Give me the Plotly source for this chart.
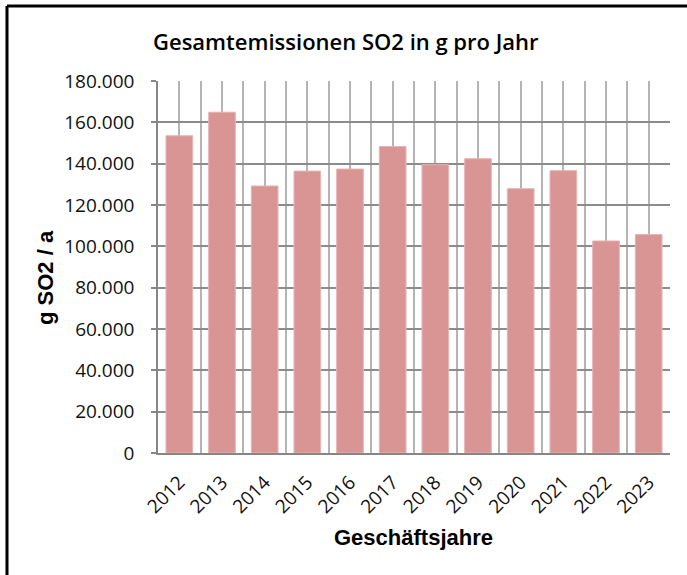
import plotly.graph_objects as go

# Annual SO2 emissions (g per year)
years = [2012, 2013, 2014, 2015, 2016, 2017, 2018, 2019, 2020, 2021, 2022, 2023]
emissions = [153500, 164900, 129200, 136400, 137400, 148300,
             139500, 142400, 127900, 136600, 102600, 105700]
year_labels = [str(y) for y in years]

title_text = "Gesamtemissionen SO2 in g pro Jahr"
x_title = "Geschäftsjahre"
y_title = "g SO2 / a"

W, H = 687, 575
ML, MR, MT, MB = 158, 17, 81, 122
PW, PH = W - ML - MR, H - MT - MB


def px(x):
    return (x - ML) / PW


def py(y):
    return (H - MB - y) / PH


fig = go.Figure(
    go.Bar(
        x=years,
        y=emissions,
        width=0.625,
        marker=dict(color="#d99594", line=dict(color="#e6b3b2", width=1)),
        hoverinfo="x+y",
    )
)

fig.update_layout(
    width=W,
    height=H,
    margin=dict(l=ML, r=MR, t=MT, b=MB),
    paper_bgcolor="white",
    plot_bgcolor="white",
    separators=",.",
    showlegend=False,
    font=dict(family="Open Sans", color="#000000"),
)

fig.update_xaxes(
    range=[years[0] - 0.5, years[-1] + 0.5],
    tickmode="array",
    tickvals=years,
    ticktext=year_labels,
    tickangle=-45,
    tickfont=dict(family="Open Sans", size=19, color="#111111"),
    ticklabelstandoff=9,
    showgrid=True,
    gridcolor="#b4b4b4",
    gridwidth=1.5,
    minor=dict(tickmode="linear", tick0=years[0] - 0.5, dtick=0.5,
               showgrid=True, gridcolor="#b4b4b4", gridwidth=1.5),
    showline=True,
    linecolor="#868686",
    linewidth=1.5,
    ticks="",
    zeroline=False,
)

fig.update_yaxes(
    range=[0, 180000],
    dtick=20000,
    tickformat=",d",
    tickfont=dict(family="Open Sans", size=19, color="#111111"),
    showgrid=True,
    gridcolor="#8c8c8c",
    gridwidth=1.5,
    showline=True,
    linecolor="#868686",
    linewidth=1.5,
    ticks="outside",
    ticklen=5,
    tickcolor="#868686",
    tickwidth=1.5,
    ticklabelstandoff=13,
    zeroline=False,
)

fig.add_annotation(
    text=title_text, xref="paper", yref="paper",
    x=px(346), y=py(41), xanchor="center", yanchor="middle",
    showarrow=False,
    font=dict(family="Open Sans", size=22, weight=600, color="#000000"),
)
fig.add_annotation(
    text=x_title, xref="paper", yref="paper",
    x=px(413), y=py(537), xanchor="center", yanchor="middle",
    showarrow=False,
    font=dict(family="Liberation Sans", size=22, weight="bold", color="#000000"),
)
fig.add_annotation(
    text=y_title, xref="paper", yref="paper",
    x=px(45), y=py(278), xanchor="center", yanchor="middle",
    textangle=-90, showarrow=False,
    font=dict(family="Liberation Sans", size=22, weight="bold", color="#000000"),
)

# Outer chart frame (left and top edges)
frame = dict(type="line", xref="paper", yref="paper",
             line=dict(color="#000000", width=3), layer="above")
fig.add_shape(x0=px(7), y0=py(6), x1=px(W + 2), y1=py(6), **frame)
fig.add_shape(x0=px(7), y0=py(6), x1=px(7), y1=py(H + 2), **frame)

fig.write_html("out.html")
